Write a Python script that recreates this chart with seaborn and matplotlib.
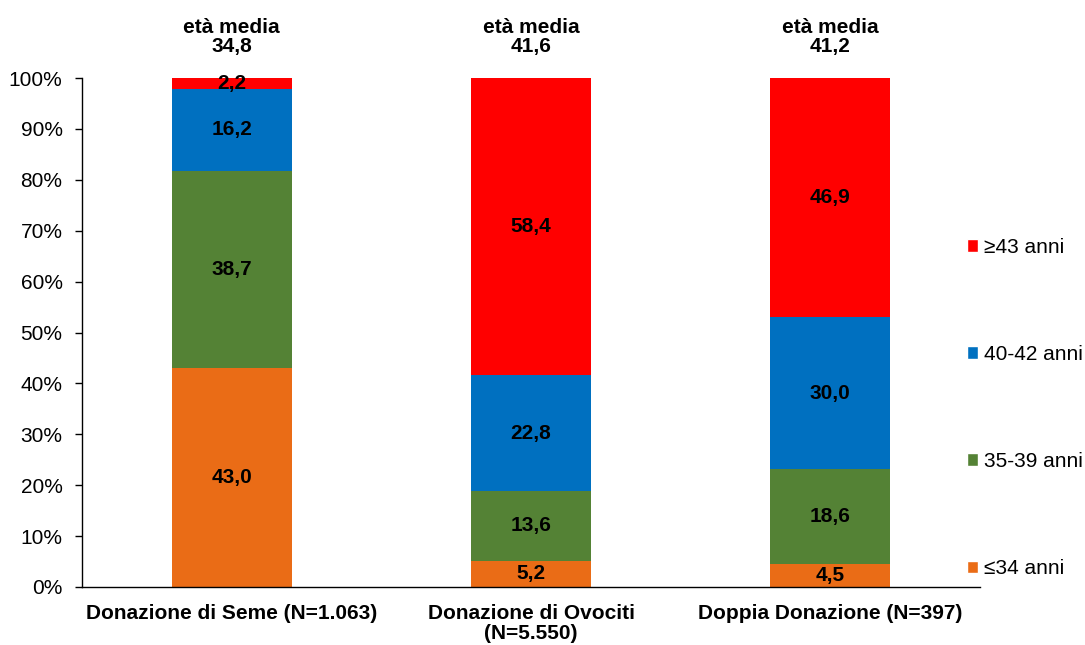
import matplotlib
matplotlib.use("Agg")
import matplotlib.pyplot as plt
import seaborn as sns
import pandas as pd
import numpy as np
from matplotlib.patches import Patch

categories = ["Donazione di Seme (N=1.063)", "Donazione di Ovociti\n(N=5.550)", "Doppia Donazione (N=397)"]
groups = ["≤34 anni", "35-39 anni", "40-42 anni", "≥43 anni"]
v_le34 = [43.0, 5.2, 4.5]
v_35_39 = [38.7, 13.6, 18.6]
v_40_42 = [16.2, 22.8, 30.0]
v_ge43 = [2.2, 58.4, 46.9]
eta_media = ["34,8", "41,6", "41,2"]
colors = ["#EA6C16", "#548235", "#0070C0", "#FF0000"]

sns.set_style("white")
plt.rcParams['font.family'] = ['Liberation Sans', 'DejaVu Sans']
plt.rcParams['text.color'] = 'black'
plt.rcParams['xtick.color'] = 'black'
plt.rcParams['ytick.color'] = 'black'
plt.rcParams['axes.labelcolor'] = 'black'

series = [v_le34, v_35_39, v_40_42, v_ge43]
vals = np.array(series)
cum = np.cumsum(vals, axis=0)

FS = 15

fig = plt.figure(figsize=(10.85, 6.45), dpi=100)
ax = fig.add_axes([82/1085, 1-587/645, (980-82)/1085, (587-78)/645])

# draw cumulative bars from top down so each layer shows its segment
for i in range(len(groups)-1, -1, -1):
    df = pd.DataFrame({"cat": categories, "val": np.minimum(cum[i], 100)})
    sns.barplot(data=df, x="cat", y="val", color=colors[i], width=0.4,
                saturation=1, ax=ax, linewidth=0)

# segment labels
for j in range(len(categories)):
    for i in range(len(groups)):
        bottom = cum[i][j] - vals[i][j]
        yc = bottom + vals[i][j] / 2
        ax.text(j, yc, f"{vals[i][j]:.1f}".replace(".", ","), ha="center", va="center",
                fontsize=FS, fontweight="bold", color="black")
    ax.text(j, 104.3, "età media\n" + eta_media[j], ha="center", va="bottom",
            fontsize=FS, fontweight="bold", linespacing=0.98, clip_on=False)

ax.set_ylim(0, 100)
ax.set_xlim(-0.5, 2.5)
ax.set_yticks(np.arange(0, 101, 10))
ax.set_yticklabels([f"{t}%" for t in range(0, 101, 10)], fontsize=FS)
ax.set_xticks(range(3))
ax.set_xticklabels(categories, fontsize=FS, fontweight="bold", linespacing=1.1)
ax.set_xticks([-0.5, 0.5, 1.5, 2.5], minor=True)
ax.tick_params(axis="x", which="major", length=0, pad=12)
ax.tick_params(axis="x", which="minor", length=6, width=1, direction="out", color="black")
ax.tick_params(axis="y", which="major", length=5, width=1, direction="out", color="black", left=True, pad=9)
ax.set_xlabel("")
ax.set_ylabel("")
for s in ["top", "right"]:
    ax.spines[s].set_visible(False)
for s in ["left", "bottom"]:
    ax.spines[s].set_color("black")
    ax.spines[s].set_linewidth(1)

handles = [Patch(facecolor=colors[i], label=groups[i]) for i in range(3, -1, -1)]
fig.legend(handles=handles, loc="center left", bbox_to_anchor=(967/1085, 1-408/645),
           frameon=False, fontsize=FS, handlelength=0.55, handleheight=0.55,
           handletextpad=0.25, labelspacing=4.23, borderaxespad=0, borderpad=0)

fig.savefig("out.png", dpi=100)
